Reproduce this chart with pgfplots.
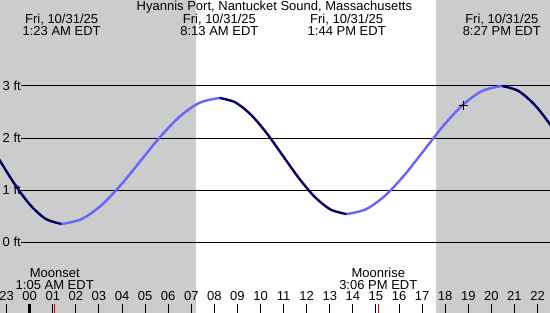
\documentclass[border=0pt]{standalone}
\usepackage{pgfplots}
\pgfplotsset{compat=1.18}
\usepackage{fontspec}
\setmainfont{Liberation Sans}
\definecolor{bggray}{RGB}{204,204,204}
\definecolor{falling}{RGB}{0,0,102}
\definecolor{rising}{RGB}{102,102,255}
\definecolor{moonred}{RGB}{230,0,0}
\tikzset{lbl/.style={inner sep=0pt, outer sep=0pt, font=\fontsize{13pt}{15pt}\selectfont, text=black}}
\begin{document}
\begin{tikzpicture}
\begin{axis}[
  scale only axis, width=550pt, height=312pt,
  xmin=-1.287, xmax=22.54, ymin=-1.34, ymax=4.65,
  axis line style={draw=none}, ticks=none,
  clip=true,
]
% background: night / day / night
\addplot[fill=bggray, draw=none] coordinates {(-1.5,-1.5) (7.21,-1.5) (7.21,4.8) (-1.5,4.8)} -- cycle;
\addplot[fill=white, draw=none] coordinates {(7.21,-1.5) (17.60,-1.5) (17.60,4.8) (7.21,4.8)} -- cycle;
\addplot[fill=bggray, draw=none] coordinates {(17.60,-1.5) (22.8,-1.5) (22.8,4.8) (17.60,4.8)} -- cycle;
% horizontal reference lines
\foreach \v in {0,1,2,3} {
  \edef\temp{\noexpand\draw[black, line width=1pt] (axis cs:-0.36,\v) -- (axis cs:22.8,\v);}
  \temp
}
\node[lbl, anchor=west] at (axis cs:-1.17,3) {3 ft};
\node[lbl, anchor=west] at (axis cs:-1.17,2) {2 ft};
\node[lbl, anchor=west] at (axis cs:-1.17,1) {1 ft};
\node[lbl, anchor=west] at (axis cs:-1.17,0) {0 ft};
% tide curve
\addplot[falling, line width=2.4pt, smooth] coordinates {
 (-1.373,1.625) (-0.684,1.137) (0.005,0.723) (0.694,0.447) (1.383,0.350)};
\addplot[rising, line width=2.4pt, smooth] coordinates {
 (1.383,0.350) (2.237,0.442) (3.091,0.704) (3.946,1.097) (4.800,1.560)
 (5.654,2.023) (6.508,2.416) (7.363,2.678) (8.217,2.770)};
\addplot[falling, line width=2.4pt, smooth] coordinates {
 (8.217,2.770) (8.906,2.685) (9.596,2.443) (10.286,2.082) (10.975,1.655)
 (11.665,1.228) (12.354,0.867) (13.044,0.625) (13.733,0.540)};
\addplot[rising, line width=2.4pt, smooth] coordinates {
 (13.733,0.540) (14.573,0.634) (15.412,0.900) (16.252,1.299) (17.092,1.770)
 (17.931,2.241) (18.771,2.640) (19.610,2.906) (20.450,3.000)};
\addplot[falling, line width=2.4pt, smooth] coordinates {
 (20.450,3.000) (21.181,2.901) (21.913,2.619) (22.644,2.197) (23.375,1.700)};
% current time marker
\addplot[only marks, mark=+, mark size=4.5pt, black, line width=1pt] coordinates {(18.79,2.63)};
% title and extreme labels
\node[lbl, anchor=base] at (axis cs:10.6,4.457) {Hyannis Port, Nantucket Sound, Massachusetts};
\node[lbl, anchor=base] at (axis cs:1.383,4.207) {Fri, 10/31/25};
\node[lbl, anchor=base] at (axis cs:1.383,3.977) {1:23 AM EDT};
\node[lbl, anchor=base] at (axis cs:8.217,4.207) {Fri, 10/31/25};
\node[lbl, anchor=base] at (axis cs:8.217,3.977) {8:13 AM EDT};
\node[lbl, anchor=base] at (axis cs:13.733,4.207) {Fri, 10/31/25};
\node[lbl, anchor=base] at (axis cs:13.733,3.977) {1:44 PM EDT};
\node[lbl, anchor=base] at (axis cs:20.450,4.207) {Fri, 10/31/25};
\node[lbl, anchor=base] at (axis cs:20.450,3.977) {8:27 PM EDT};
% moon labels
\node[lbl, anchor=base] at (axis cs:1.083,-0.685) {Moonset};
\node[lbl, anchor=base] at (axis cs:1.083,-0.905) {1:05 AM EDT};
\node[lbl, anchor=base] at (axis cs:15.1,-0.685) {Moonrise};
\node[lbl, anchor=base] at (axis cs:15.1,-0.905) {3:06 PM EDT};
% hour ticks and labels
\foreach \h/\lab in {-1/23,1/01,2/02,3/03,4/04,5/05,6/06,7/07,8/08,9/09,10/10,11/11,12/12,13/13,14/14,15/15,16/16,17/17,18/18,19/19,20/20,21/21,22/22} {
  \edef\temp{\noexpand\draw[black, line width=1pt] (axis cs:\h,-1.186) -- (axis cs:\h,-1.40);
  \noexpand\node[lbl, anchor=base] at (axis cs:\h,-1.112) {\lab};}
  \temp
}
\draw[black, line width=3pt] (axis cs:0,-1.186) -- (axis cs:0,-1.40);
\node[lbl, anchor=base] at (axis cs:0,-1.112) {00};
\draw[moonred, line width=1pt] (axis cs:1.083,-1.186) -- (axis cs:1.083,-1.40);
\draw[moonred, line width=1pt] (axis cs:15.1,-1.186) -- (axis cs:15.1,-1.40);
\end{axis}
\end{tikzpicture}
\end{document}
